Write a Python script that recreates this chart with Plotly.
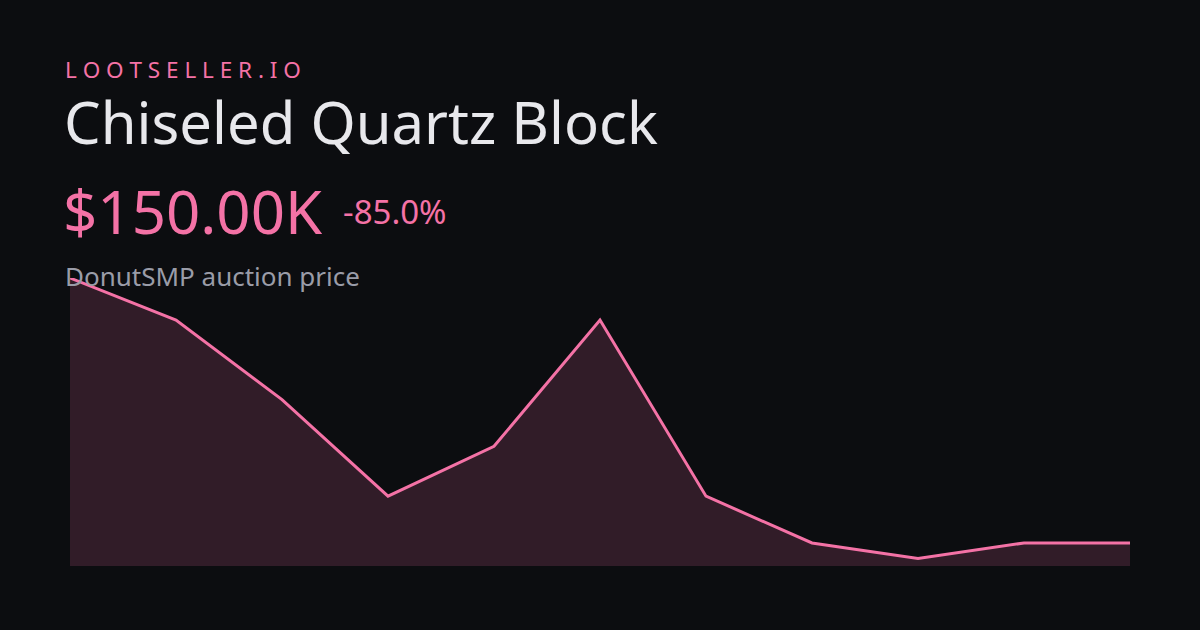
import plotly.graph_objects as go

x = list(range(11))
prices_k = [1000, 865, 610, 300, 460, 865, 300, 150, 100, 150, 150]

fig = go.Figure()
fig.add_trace(go.Scatter(x=x, y=prices_k, mode="lines", line=dict(color="#f472a6", width=3),
                         fill="tozeroy", fillcolor="rgba(244,114,166,0.16)", hoverinfo="skip"))
F = "Noto Sans"
fig.update_layout(
    width=1200, height=630, paper_bgcolor="#0c0d10", plot_bgcolor="rgba(0,0,0,0)",
    margin=dict(l=70, r=70, t=278, b=64), showlegend=False,
    xaxis=dict(range=[0, 10], visible=False, fixedrange=True),
    yaxis=dict(range=[76, 1000], visible=False, fixedrange=True),
    font=dict(family=F),
)
def py(ypix):
    return (630 - ypix - 64) / (630 - 278 - 64)
def px(xpix):
    return (xpix - 70) / (1200 - 140)
def t(txt, x, y, size, color):
    fig.add_annotation(text=txt, x=px(x), y=py(y), xref="paper", yref="paper", xanchor="left", yanchor="middle",
                       showarrow=False, font=dict(family=F, size=size, color=color))
t("L O O T S E L L E R . I O", 63, 69, 22.5, "#f472a6")
t("Chiseled Quartz Block", 62, 122, 58, "#e8e8ec")
t("$150.00K", 61, 211, 60, "#f472a6")
t("-85.0%", 341, 212, 33, "#f472a6")
t("DonutSMP auction price", 63, 276, 26, "#9a9ca8")
fig.write_html("out.html", config={"displayModeBar": False, "staticPlot": True})
with open("out.html", encoding="utf-8") as f:
    html = f.read()
html = html.replace("<head>", "<head><style>html,body{margin:0;padding:0;background:#0c0d10;overflow:hidden}</style>", 1)
with open("out.html", "w", encoding="utf-8") as f:
    f.write(html)
